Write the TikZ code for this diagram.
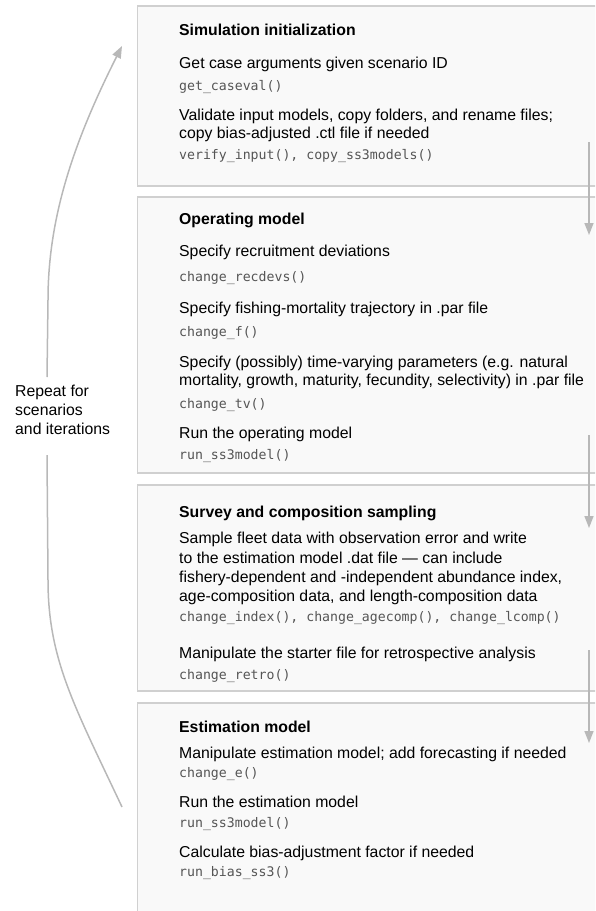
\documentclass[tikz,border=0pt]{standalone}
\usepackage{fontspec}
\setmainfont{Liberation Sans}
\setmonofont{DejaVu Sans Mono}
\usetikzlibrary{arrows.meta}
\definecolor{boxfill}{HTML}{F9F9F9}
\definecolor{boxline}{HTML}{D0D0D0}
\definecolor{arrowgray}{HTML}{B8B8B8}
\definecolor{codegray}{HTML}{555555}
\tikzset{
  panel/.style={draw=boxline, fill=boxfill, line width=1.1pt},
  txt/.style={anchor=base west, inner sep=0pt, font=\fontsize{15.8}{19}\selectfont, text=black},
  ttl/.style={anchor=base west, inner sep=0pt, font=\fontsize{15.8}{19}\selectfont\bfseries, text=black},
  code/.style={anchor=base west, inner sep=0pt, font=\fontsize{13.2}{16}\selectfont\ttfamily, text=codegray},
  flow/.style={draw=arrowgray, line width=1.5pt, -{Triangle[length=12pt,width=9pt]}},
  loopline/.style={draw=arrowgray, line width=1.5pt},
}
\begin{document}
\begin{tikzpicture}[x=1pt,y=-1pt]
\useasboundingbox (0,0) rectangle (595,911);
\clip (0,0) rectangle (595,911);

% panels
\draw[panel] (137.5,6) rectangle (610,186);
\draw[panel] (137.5,197) rectangle (610,473);
\draw[panel] (137.5,485) rectangle (610,691);
\draw[panel] (137.5,703) rectangle (610,930);

% box 1
\node[ttl]  (t1)  at (179,35)  {Simulation initialization};
\node[txt]  (p11) at (179,68)  {Get case arguments given scenario ID};
\node[code] (c11) at (179,90)  {get\_caseval()};
\node[txt]  (p12) at (179,120) {Validate input models, copy folders, and rename files;};
\node[txt]  (p13) at (179,138) {copy bias-adjusted .ctl file if needed};
\node[code] (c12) at (179,159) {verify\_input(), copy\_ss3models()};

% box 2
\node[ttl]  (t2)  at (179,224) {Operating model};
\node[txt]  (p21) at (179,256) {Specify recruitment deviations};
\node[code] (c21) at (179,281) {change\_recdevs()};
\node[txt]  (p22) at (179,313) {Specify fishing-mortality trajectory in .par file};
\node[code] (c22) at (179,336) {change\_f()};
\node[txt]  (p23) at (179,367) {Specify (possibly) time-varying parameters (e.g. natural};
\node[txt]  (p24) at (179,385) {mortality, growth, maturity, fecundity, selectivity) in .par file};
\node[code] (c23) at (179,408) {change\_tv()};
\node[txt]  (p25) at (179,438) {Run the operating model};
\node[code] (c24) at (179,459) {run\_ss3model()};

% box 3
\node[ttl]  (t3)  at (179,517) {Survey and composition sampling};
\node[txt]  (p31) at (179,543) {Sample fleet data with observation error and write};
\node[txt]  (p32) at (179,563) {to the estimation model .dat file — can include};
\node[txt]  (p33) at (179,582) {fishery-dependent and -independent abundance index,};
\node[txt]  (p34) at (179,601) {age-composition data, and length-composition data};
\node[code] (c31) at (179,621) {change\_index(), change\_agecomp(), change\_lcomp()};
\node[txt]  (p35) at (179,658) {Manipulate the starter file for retrospective analysis};
\node[code] (c32) at (179,679) {change\_retro()};

% box 4
\node[ttl]  (t4)  at (179,732) {Estimation model};
\node[txt]  (p41) at (179,758) {Manipulate estimation model; add forecasting if needed};
\node[code] (c41) at (179,777) {change\_e()};
\node[txt]  (p42) at (179,807) {Run the estimation model};
\node[code] (c42) at (179,827) {run\_ss3model()};
\node[txt]  (p43) at (179,857) {Calculate bias-adjustment factor if needed};
\node[code] (c43) at (179,876) {run\_bias\_ss3()};

% right-hand flow arrows
\coordinate (a1s) at (589,142);
\coordinate (a1e) at (589,235);
\coordinate (a2s) at (589,435);
\coordinate (a2e) at (589,528);
\coordinate (a3s) at (589,650);
\coordinate (a3e) at (589,743);
\draw[flow] (a1s) -- (a1e);
\draw[flow] (a2s) -- (a2e);
\draw[flow] (a3s) -- (a3e);

% loop label and curve
\node[txt, align=left, anchor=north west] (rep) at (15,385)
  {Repeat for\\scenarios\\and iterations};
\coordinate (lb) at (122,807);
\coordinate (lb2) at (48,580);
\coordinate (gapb) at (47,455);
\coordinate (gapt) at (47,377);
\coordinate (lt2) at (48,300);
\coordinate (lt) at (122,46);
\draw[loopline] (lb) .. controls (75,707) and (48,660) .. (lb2) -- (gapb);
\draw[loopline, -{Triangle[length=12pt,width=9pt]}] (gapt) -- (lt2) .. controls (48,220) and (72,145) .. (lt);
\end{tikzpicture}
\end{document}
